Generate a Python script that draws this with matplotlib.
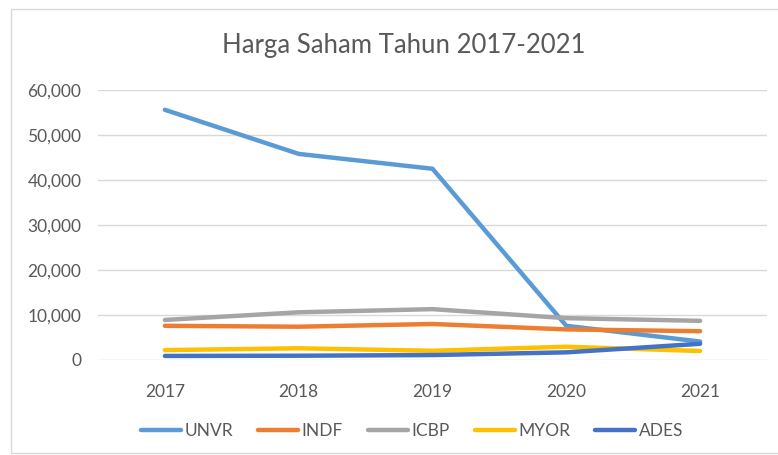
import matplotlib
matplotlib.use("Agg")
import matplotlib.pyplot as plt
from matplotlib.ticker import FuncFormatter
from matplotlib.patches import Rectangle

years = ["2017", "2018", "2019", "2020", "2021"]
unvr = [55600, 45800, 42500, 7600, 4100]
indf = [7600, 7400, 8000, 6800, 6400]
icbp = [8900, 10600, 11300, 9300, 8700]
myor = [2200, 2600, 2050, 2950, 2000]
ades = [900, 950, 1100, 1700, 3600]

series = [("UNVR", unvr, "#5B9BD5"), ("INDF", indf, "#ED7D31"),
          ("ICBP", icbp, "#A5A5A5"), ("MYOR", myor, "#FFC000"),
          ("ADES", ades, "#4472C4")]

plt.rcParams['font.family'] = ['Lato', 'DejaVu Sans']
fig = plt.figure(figsize=(7.78, 4.55), dpi=100)
fig.patches.append(Rectangle((11/778, 0.005), 1, 1-9/455-0.005, transform=fig.transFigure,
                             fill=False, edgecolor="#D9D9D9", linewidth=1))
ax = fig.add_axes([98/778, 1-360/455, (767-98)/778, 270/455])
x = list(range(len(years)))
for name, vals, c in series:
    ax.plot(x, vals, color=c, linewidth=3.2, label=name, solid_joinstyle='round',
            solid_capstyle='round')
ax.set_xlim(-0.5, 4.5)
ax.set_ylim(0, 60000)
ax.set_yticks(range(0, 60001, 10000))
ax.yaxis.set_major_formatter(FuncFormatter(lambda v, p: f"{int(v):,}"))
ax.set_xticks(x)
ax.set_xticklabels(years)
ax.grid(axis='y', color="#D9D9D9", linewidth=1)
ax.set_axisbelow(True)
for s in ax.spines.values():
    s.set_visible(False)
ax.tick_params(length=0, labelsize=12.5, labelcolor="#595959")
ax.tick_params(axis='y', pad=12)
ax.tick_params(axis='x', pad=17)
fig.text(404/778, 1-45/455, "Harga Saham Tahun 2017-2021", ha='center', va='center',
         fontsize=18.5, color="#595959", fontweight='normal')
fig.legend(loc='center', bbox_to_anchor=(412/778, 1-431/455), ncol=5, frameon=False,
           fontsize=12.5, labelcolor="#595959", handlelength=2.3, columnspacing=1.45,
           handletextpad=0.2)
fig.savefig("out.png", dpi=100)
